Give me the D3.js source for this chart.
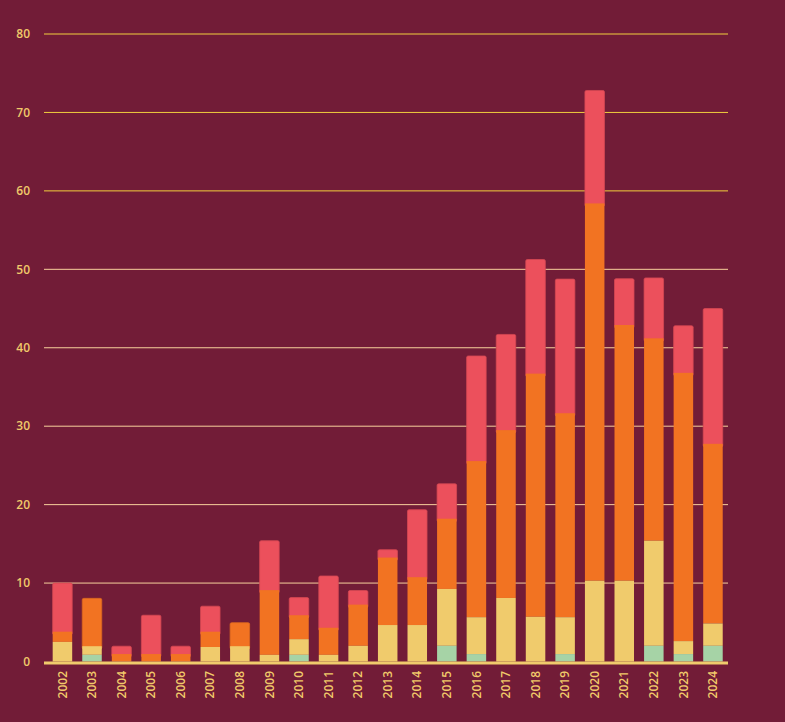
<!DOCTYPE html>
<html>
<head>
<meta charset="utf-8">
<script src="https://cdn.jsdelivr.net/npm/d3@7"></script>
<style>
  body { margin: 0; background: #721c37; }
  text { font-family: "Open Sans", sans-serif; font-weight: 600; }
</style>
</head>
<body>
<script>
/* stacked bars, one column per year */
var width = 785;
var height = 722;

var years = ["2002","2003","2004","2005","2006","2007","2008","2009","2010","2011","2012",
             "2013","2014","2015","2016","2017","2018","2019","2020","2021","2022","2023","2024"];

var greenVals  = [0, 0.85, 0, 0, 0, 0, 0, 0, 0.85, 0, 0, 0, 0, 2, 0.95, 0, 0, 0.95, 0, 0, 2, 0.95, 2];
var yellowVals = [2.5, 1.1, 0, 0, 0, 1.85, 1.95, 0.85, 2.0, 0.85, 2.0, 4.65, 4.65, 7.25, 4.7, 8.1, 5.7, 4.7, 10.3, 10.3, 13.4, 1.65, 2.85];
var orangeVals = [1.3, 6.1, 0.95, 0.95, 0.95, 1.95, 3.0, 8.25, 3.05, 3.45, 5.25, 8.6, 6.1, 8.95, 19.9, 21.4, 31.0, 26.0, 48.1, 32.6, 25.8, 34.2, 22.9];
var redVals    = [6.2, 0, 1.0, 4.95, 1.0, 3.25, 0, 6.3, 2.25, 6.6, 1.8, 1.0, 8.6, 4.45, 13.4, 12.2, 14.55, 17.1, 14.4, 5.9, 7.7, 6.0, 17.25];

var yTicks = [0, 10, 20, 30, 40, 50, 60, 70, 80];

var keys = ["green", "yellow", "orange", "red"];
var colors = {green: "#a6d3a6", yellow: "#f0cb6c", orange: "#f27322", red: "#ec505c"};
var textColor = "#f0c96a";

var rows = years.map(function(y, i){
  return {year: y, green: greenVals[i], yellow: yellowVals[i], orange: orangeVals[i], red: redVals[i]};
});

var svg = d3.select("body").append("svg").attr("width", width).attr("height", height);

var x = d3.scaleBand().domain(years).range([44.4, 731]).paddingInner(0.34).paddingOuter(0.28);
var y = d3.scaleLinear().domain([0, 80]).range([661.5, 34]);

// grid
svg.append("g")
  .selectAll("line")
  .data(yTicks.filter(function(d){ return d > 0; }))
  .enter()
  .append("line")
  .attr("x1", 44).attr("x2", 728)
  .attr("y1", function(d){ return y(d); })
  .attr("y2", function(d){ return y(d); })
  .attr("stroke", function(d){ return d > 55 ? "#f1cf3e" : "#f8d19c"; })
  .attr("stroke-width", 1);

// y labels
svg.append("g")
  .selectAll("text")
  .data(yTicks)
  .enter()
  .append("text")
  .attr("x", 30)
  .attr("y", function(d){ return y(d); })
  .attr("dy", "0.35em")
  .attr("text-anchor", "end")
  .attr("font-size", 12)
  .attr("fill", textColor)
  .text(function(d){ return d; });

var series = d3.stack().keys(keys)(rows);

// which key is the top of each column
var topKey = rows.map(function(r){
  var k = null;
  keys.forEach(function(key){ if (r[key] > 0) k = key; });
  return k;
});

// draw top series first so lower segments cover the top segment's bottom edge
svg.append("g")
  .selectAll("g")
  .data(series.slice().reverse())
  .enter()
  .append("g")
  .attr("fill", function(s){ return colors[s.key]; })
  .each(function(s){
    d3.select(this).selectAll("rect")
      .data(s.filter(function(d){ return d[1] - d[0] > 0; }))
      .enter()
      .append("rect")
      .attr("x", function(d){ return x(d.data.year); })
      .attr("width", x.bandwidth())
      .attr("y", function(d){ return y(d[1]); })
      .attr("height", function(d){
        var isTop = topKey[years.indexOf(d.data.year)] === s.key;
        return y(d[0]) - y(d[1]) + (isTop && d[0] > 0 ? 3 : 0);
      })
      .attr("rx", function(d){
        return topKey[years.indexOf(d.data.year)] === s.key ? 1.5 : 0;
      })
      .attr("stroke", function(d){
        var isTop = topKey[years.indexOf(d.data.year)] === s.key;
        return isTop ? d3.color(colors[s.key]).darker(0.3) : "none";
      })
      .attr("stroke-width", 0.8);
  });

// baseline
svg.append("line")
  .attr("x1", 44).attr("x2", 728)
  .attr("y1", y(0) + 1.5).attr("y2", y(0) + 1.5)
  .attr("stroke", "#f0cb6c")
  .attr("stroke-width", 3);

// year labels
svg.append("g")
  .selectAll("text")
  .data(years)
  .enter()
  .append("text")
  .attr("transform", function(d){
    return "translate(" + (x(d) + x.bandwidth() / 2) + ",671) rotate(-90)";
  })
  .attr("dy", "0.35em")
  .attr("text-anchor", "end")
  .attr("font-size", 12)
  .attr("fill", textColor)
  .text(function(d){ return d; });
</script>
</body>
</html>
